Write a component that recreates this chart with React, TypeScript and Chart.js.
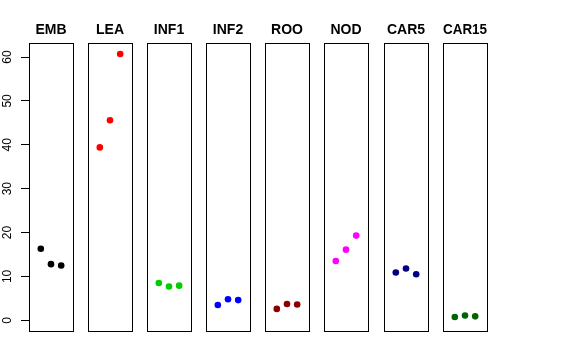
import React, { useEffect, useRef } from 'react';
import { Chart, registerables } from 'chart.js';

Chart.register(...registerables);

// ---- data ----
const categories = ['EMB', 'LEA', 'INF1', 'INF2', 'ROO', 'NOD', 'CAR5', 'CAR15'];
const replicates = [1, 2, 3];
const embValues = [16.3, 12.8, 12.5];
const leaValues = [39.4, 45.6, 60.7];
const inf1Values = [8.5, 7.7, 7.9];
const inf2Values = [3.5, 4.8, 4.6];
const rooValues = [2.6, 3.7, 3.6];
const nodValues = [13.5, 16.1, 19.3];
const car5Values = [10.9, 11.8, 10.5];
const car15Values = [0.75, 1.1, 0.9];
const yTickValues = [0, 10, 20, 30, 40, 50, 60];

const seriesValues = [embValues, leaValues, inf1Values, inf2Values, rooValues, nodValues, car5Values, car15Values];
const seriesColors = ['#000000', '#FF0000', '#00CD00', '#0000FF', '#8B0000', '#FF00FF', '#000080', '#006400'];

// ---- layout ----
const Y_MIN = -2.44;
const Y_MAX = 63.2;
const X_MIN = -0.16;
const X_MAX = 4.16;
const boxLefts = [29, 88, 147, 206, 265, 324, 384, 443];
const BOX_WIDTH = 44;
const CANVAS_HEIGHT = 345;
const AXIS_WIDTH = 29;

const boxPlugin = {
  id: 'panelBox',
  afterDatasetsDraw(chart: any) {
    const { ctx, chartArea } = chart;
    ctx.save();
    ctx.strokeStyle = '#000';
    ctx.lineWidth = 1;
    const l = Math.round(chartArea.left) + 0.5;
    const t = Math.round(chartArea.top) + 0.5;
    const r = Math.round(chartArea.right) + 0.5;
    const b = Math.round(chartArea.bottom) + 0.5;
    ctx.strokeRect(l, t, r - l, b - t);
    ctx.restore();
  },
};

function Panel({ index }: { index: number }) {
  const ref = useRef<HTMLCanvasElement | null>(null);
  const first = index === 0;
  const canvasLeft = first ? 0 : boxLefts[index] - 5;
  const canvasWidth = first ? AXIS_WIDTH + BOX_WIDTH + 7 : BOX_WIDTH + 11;

  useEffect(() => {
    if (!ref.current) return;
    const color = seriesColors[index];
    const chart = new Chart(ref.current, {
      type: 'scatter',
      data: {
        datasets: [
          {
            data: replicates.map((x, i) => ({ x, y: seriesValues[index][i] })),
            backgroundColor: color,
            borderColor: color,
            borderWidth: 0,
            pointRadius: 3.3,
            pointHoverRadius: 3.3,
          },
        ],
      },
      options: {
        animation: false,
        responsive: false,
        events: [],
        layout: {
          padding: {
            left: first ? 0 : 5,
            right: first ? 7 : 6,
            top: 21.6,
            bottom: 14,
          },
        },
        plugins: {
          legend: { display: false },
          tooltip: { enabled: false },
          title: { display: false },
        },
        scales: {
          x: {
            type: 'linear',
            min: X_MIN,
            max: X_MAX,
            position: 'top',
            display: true,
            grid: { display: false, drawTicks: false },
            border: { display: false },
            ticks: { display: false },
            title: {
              display: true,
              text: categories[index],
              color: '#000',
              font: { family: 'Liberation Sans', size: 14, weight: 'bold' },
              padding: { top: 0, bottom: 4.6 },
            },
          },
          y: {
            type: 'linear',
            min: Y_MIN,
            max: Y_MAX,
            display: first,
            position: 'left',
            grid: {
              display: true,
              drawOnChartArea: false,
              drawTicks: true,
              tickLength: 8,
              color: '#000',
              lineWidth: 1,
            },
            border: { display: false },
            afterBuildTicks: (s: any) => {
              s.ticks = yTickValues.map((v) => ({ value: v }));
            },
            afterFit: (s: any) => {
              if (first) {
                s.width = AXIS_WIDTH;
                s.paddingTop = 0;
                s.paddingBottom = 0;
              }
            },
            ticks: {
              minRotation: 90,
              maxRotation: 90,
              crossAlign: 'center',
              padding: 7,
              color: '#000',
              font: { family: 'Liberation Sans', size: 12 },
              callback: (v: any) => String(v),
            },
          },
        },
      },
      plugins: [boxPlugin],
    } as any);
    return () => chart.destroy();
  }, [index]);

  return (
    <canvas
      ref={ref}
      width={canvasWidth}
      height={CANVAS_HEIGHT}
      style={{ position: 'absolute', left: canvasLeft, top: 0, width: canvasWidth, height: CANVAS_HEIGHT }}
    />
  );
}

export default function App() {
  return (
    <div style={{ position: 'absolute', left: 0, top: 0, width: 576, height: 360, background: '#fff' }}>
      {categories.map((_, i) => (
        <Panel key={i} index={i} />
      ))}
    </div>
  );
}
